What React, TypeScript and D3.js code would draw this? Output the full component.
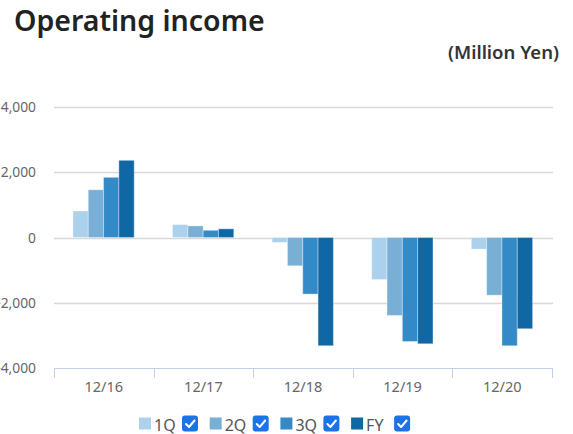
import React from "react";
import * as d3 from "d3";

const categories = ["12/16", "12/17", "12/18", "12/19", "12/20"];
const seriesNames = ["1Q", "2Q", "3Q", "FY"];
const q1 = [810, 395, -150, -1285, -355];
const q2 = [1460, 355, -865, -2385, -1765];
const q3 = [1840, 220, -1730, -3180, -3310];
const fy = [2360, 265, -3310, -3250, -2790];
const yTicks = [-4000, -2000, 0, 2000, 4000];
const colors = ["#acd1ec", "#79afd5", "#348ac6", "#0f67a3"];

const W = 573;
const H = 434;

export default function App() {
  const seriesValues = [q1, q2, q3, fy];
  const x0 = d3.scaleBand<string>().domain(categories).range([54, 552]).paddingInner(0).paddingOuter(0);
  const bw = x0.bandwidth();
  const x1 = d3.scaleBand<string>().domain(seriesNames).range([bw * 0.19, bw * 0.805]).padding(0);
  const y = d3.scaleLinear().domain([-4000, 4000]).range([368.3, 106.7]);
  const fmt = d3.format(",");
  const boundaries = [...categories.map((c) => x0(c) as number), (x0(categories[categories.length - 1]) as number) + bw];

  return (
    <svg width={W} height={H} style={{ position: "absolute", left: 0, top: 0, background: "#fff" }}>
      <text x={14} y={31} fontFamily="Noto Sans, sans-serif" fontSize={28.5} fontWeight={600} fill="#222">
        Operating income
      </text>
      <text x={559} y={58.5} textAnchor="end" fontFamily="Noto Sans, sans-serif" fontSize={18.5} fontWeight={600} fill="#333">
        (Million Yen)
      </text>
      {yTicks.map((t) => (
        <g key={t}>
          {t !== -4000 && (
            <line x1={54} x2={553} y1={Math.round(y(t)) + 0.5} y2={Math.round(y(t)) + 0.5} stroke="#d8d8d8" strokeWidth={1.5} />
          )}
          <text x={36} y={y(t) + 5} textAnchor="end" fontFamily="Noto Sans, sans-serif" fontSize={13.8} fill="#666">
            {fmt(t).replace("−", "-")}
          </text>
        </g>
      ))}
      {seriesValues.map((vals, si) =>
        categories.map((c, ci) => {
          const v = vals[ci];
          const bx = (x0(c) as number) + (x1(seriesNames[si]) as number);
          const top = y(Math.max(0, v));
          const h = Math.abs(y(v) - y(0));
          return (
            <rect
              key={`${si}-${ci}`}
              x={bx}
              y={top}
              width={x1.bandwidth()}
              height={h}
              fill={colors[si]}
              stroke="#ffffff"
              strokeOpacity={0.35}
              strokeWidth={1}
            />
          );
        })
      )}
      <line x1={54} x2={552} y1={368.5} y2={368.5} stroke="#c3d0e3" strokeWidth={1} />
      {boundaries.map((bx, i) => (
        <line key={i} x1={Math.round(bx) + 0.5} x2={Math.round(bx) + 0.5} y1={368} y2={378} stroke="#c3d0e3" strokeWidth={1} />
      ))}
      {categories.map((c) => (
        <text
          key={c}
          x={(x0(c) as number) + bw / 2}
          y={392}
          textAnchor="middle"
          fontFamily="Noto Sans, sans-serif"
          fontSize={14.5}
          fill="#666"
        >
          {c}
        </text>
      ))}
      {seriesNames.map((s, i) => {
        const lx = 139 + i * 70.7;
        return (
          <g key={s} transform={`translate(${lx},417)`}>
            <rect x={0} y={0.5} width={12} height={12} fill={colors[i]} />
            <text x={15} y={13.5} fontFamily="Noto Sans, sans-serif" fontSize={16} fill="#555">
              {s}
            </text>
            <g transform={`translate(${43},-1.5)`}>
              <rect x={0} y={0} width={16} height={16} rx={3} fill="#1a73e8" />
              <path d="M4 8.5 L7 11.5 L12.5 5" fill="none" stroke="#fff" strokeWidth={2} strokeLinecap="round" strokeLinejoin="round" />
            </g>
          </g>
        );
      })}
    </svg>
  );
}
